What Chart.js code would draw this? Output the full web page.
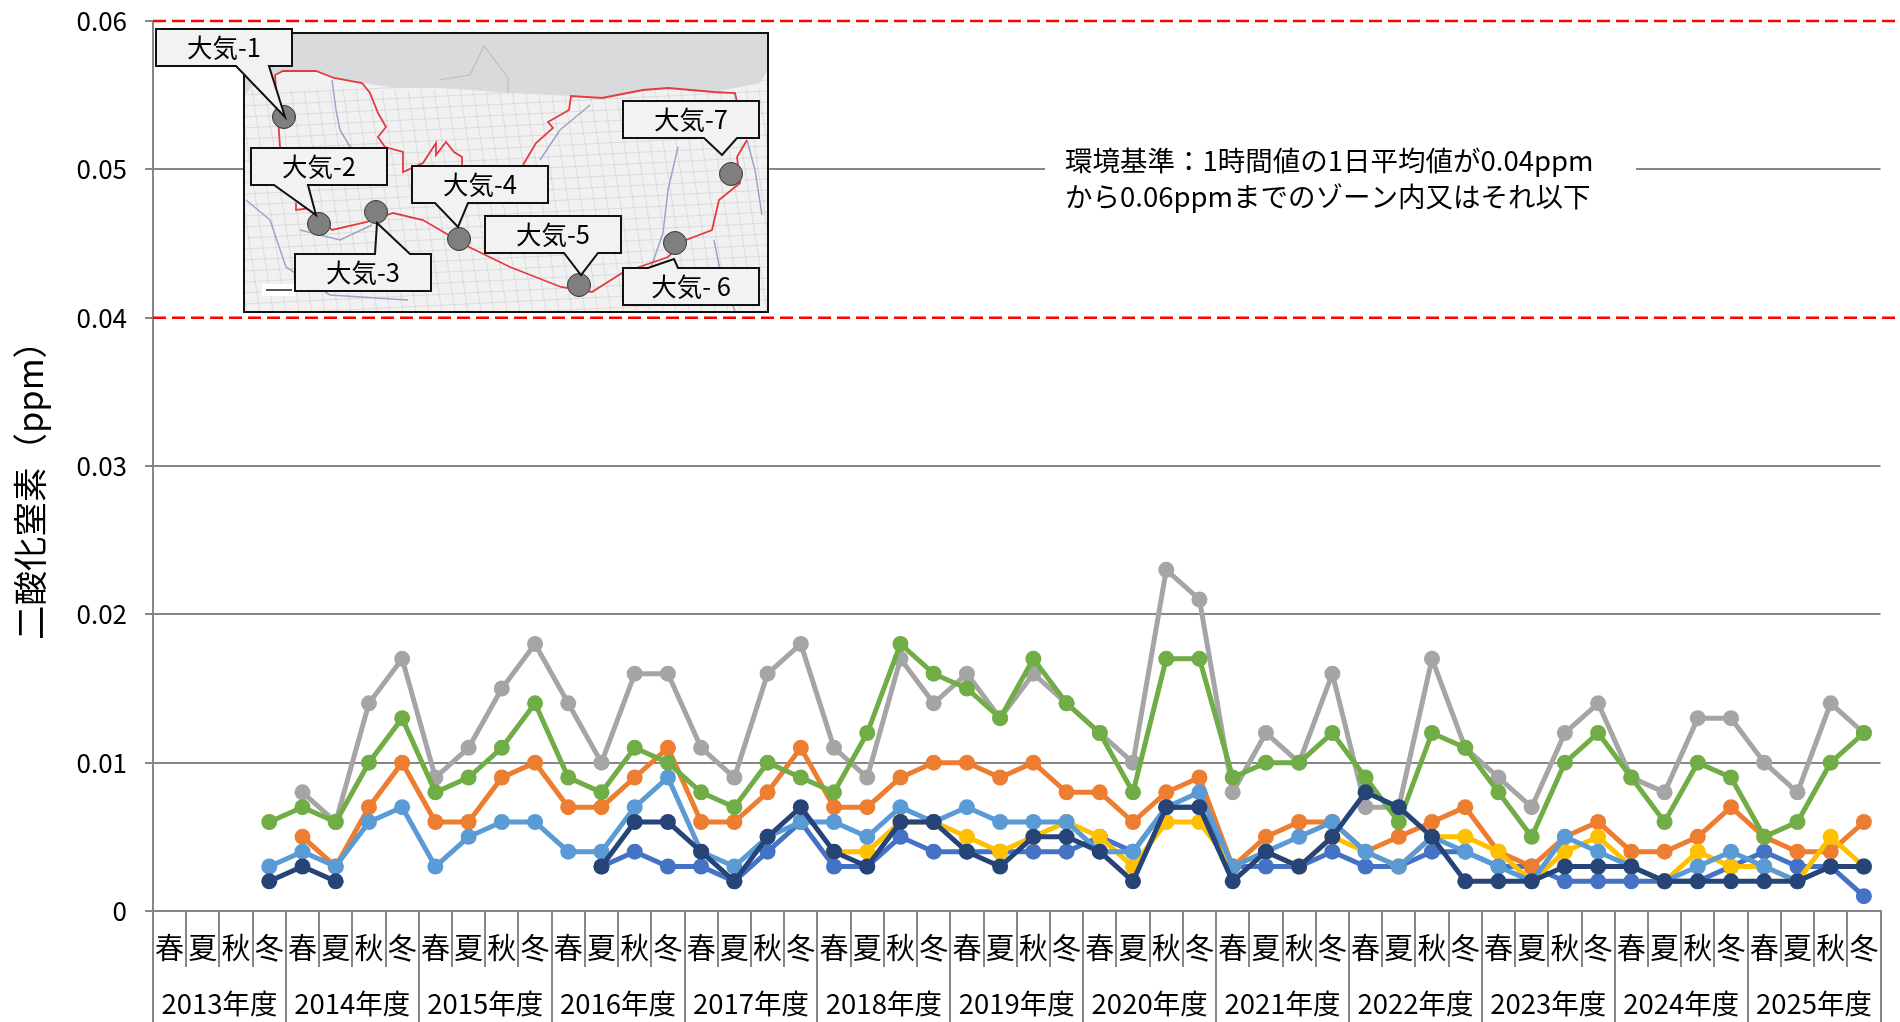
<!DOCTYPE html>
<html lang="ja">
<head>
<meta charset="utf-8">
<title>二酸化窒素</title>
<script src="https://cdn.jsdelivr.net/npm/chart.js@4"></script>
<style>
  html, body { margin: 0; padding: 0; background: #fff; overflow: hidden; }
  canvas { display: block; }
</style>
</head>
<body>
<canvas id="no2-chart" width="1900" height="1022"></canvas>
<script>
// categories
const seasons = ['春', '夏', '秋', '冬'];
const years = ['2013年度', '2014年度', '2015年度', '2016年度', '2017年度', '2018年度', '2019年度',
  '2020年度', '2021年度', '2022年度', '2023年度', '2024年度', '2025年度'];
const yTickLabels = ['0', '0.01', '0.02', '0.03', '0.04', '0.05', '0.06'];
const limitLines = [0.04, 0.06];

// series values (ppm)
const taiki1 = [null, null, null, null, null, null, null, null, null, null, null, null, null,
  0.003, 0.004, 0.003, 0.003, 0.002, 0.004, 0.006, 0.003, 0.003, 0.005, 0.004, 0.004, 0.004,
  0.004, 0.004, 0.005, 0.004, 0.007, 0.007, 0.003, 0.003, 0.003, 0.004, 0.003, 0.003, 0.004,
  0.004, 0.003, 0.003, 0.002, 0.002, 0.002, 0.002, 0.002, 0.003, 0.004, 0.003, 0.003, 0.001];
const taiki2 = [null, null, null, null, 0.005, 0.003, 0.007, 0.010, 0.006, 0.006, 0.009, 0.010, 0.007,
  0.007, 0.009, 0.011, 0.006, 0.006, 0.008, 0.011, 0.007, 0.007, 0.009, 0.010, 0.010, 0.009,
  0.010, 0.008, 0.008, 0.006, 0.008, 0.009, 0.003, 0.005, 0.006, 0.006, 0.004, 0.005, 0.006,
  0.007, 0.004, 0.003, 0.005, 0.006, 0.004, 0.004, 0.005, 0.007, 0.005, 0.004, 0.004, 0.006];
const taiki3 = [null, null, null, null, 0.008, 0.006, 0.014, 0.017, 0.009, 0.011, 0.015, 0.018, 0.014,
  0.010, 0.016, 0.016, 0.011, 0.009, 0.016, 0.018, 0.011, 0.009, 0.017, 0.014, 0.016, 0.013,
  0.016, 0.014, 0.012, 0.010, 0.023, 0.021, 0.008, 0.012, 0.010, 0.016, 0.007, 0.007, 0.017,
  0.011, 0.009, 0.007, 0.012, 0.014, 0.009, 0.008, 0.013, 0.013, 0.010, 0.008, 0.014, 0.012];
const taiki4 = [null, null, null, null, null, null, null, null, null, null, null, null, null,
  null, null, null, null, null, null, null, 0.004, 0.004, 0.006, 0.006, 0.005, 0.004,
  0.005, 0.006, 0.005, 0.003, 0.006, 0.006, 0.003, 0.004, 0.003, 0.005, 0.004, 0.003, 0.005,
  0.005, 0.004, 0.002, 0.004, 0.005, 0.003, 0.002, 0.004, 0.003, 0.003, 0.002, 0.005, 0.003];
const taiki5 = [null, null, null, 0.003, 0.004, 0.003, 0.006, 0.007, 0.003, 0.005, 0.006, 0.006, 0.004,
  0.004, 0.007, 0.009, 0.004, 0.003, 0.005, 0.006, 0.006, 0.005, 0.007, 0.006, 0.007, 0.006,
  0.006, 0.006, 0.004, 0.004, 0.007, 0.008, 0.003, 0.004, 0.005, 0.006, 0.004, 0.003, 0.005,
  0.004, 0.003, 0.002, 0.005, 0.004, 0.003, 0.002, 0.003, 0.004, 0.003, 0.002, 0.003, 0.003];
const taiki6 = [null, null, null, 0.006, 0.007, 0.006, 0.010, 0.013, 0.008, 0.009, 0.011, 0.014, 0.009,
  0.008, 0.011, 0.010, 0.008, 0.007, 0.010, 0.009, 0.008, 0.012, 0.018, 0.016, 0.015, 0.013,
  0.017, 0.014, 0.012, 0.008, 0.017, 0.017, 0.009, 0.010, 0.010, 0.012, 0.009, 0.006, 0.012,
  0.011, 0.008, 0.005, 0.010, 0.012, 0.009, 0.006, 0.010, 0.009, 0.005, 0.006, 0.010, 0.012];
const taiki7 = [null, null, null, 0.002, 0.003, 0.002, null, null, null, null, null, null, null,
  0.003, 0.006, 0.006, 0.004, 0.002, 0.005, 0.007, 0.004, 0.003, 0.006, 0.006, 0.004, 0.003,
  0.005, 0.005, 0.004, 0.002, 0.007, 0.007, 0.002, 0.004, 0.003, 0.005, 0.008, 0.007, 0.005,
  0.002, 0.002, 0.002, 0.003, 0.003, 0.003, 0.002, 0.002, 0.002, 0.002, 0.002, 0.003, 0.003];

const seasonLabels = years.flatMap(function () { return seasons; });
const seriesValues = [taiki1, taiki2, taiki3, taiki4, taiki5, taiki6, taiki7];
const seriesNames = ['大気-1', '大気-2', '大気-3', '大気-4', '大気-5', '大気-6', '大気-7'];
const seriesColors = ['#4472C4', '#ED7D31', '#A5A5A5', '#FFC000', '#5B9BD5', '#70AD47', '#264478'];

const FONT = '"Noto Sans CJK JP", "Noto Sans", sans-serif';
const GRID = '#868686';

// the later series sit on top, as in the source chart
const datasets = seriesValues.map(function (values, i) {
  return {
    label: seriesNames[i],
    data: values,
    order: seriesValues.length - i,
    borderColor: seriesColors[i],
    backgroundColor: seriesColors[i],
    borderWidth: 5,
    pointRadius: 8,
    pointBorderWidth: 0,
    pointHoverRadius: 8,
    tension: 0,
    spanGaps: false,
  };
});

// inset map: callout [text, box x, y, pointer base x1, x2, tip x, y, circle x, y]
const callouts = [
  ['大気-1', 156, 29, 236, 269, 285, 117, 284, 117],
  ['大気-2', 251, 148, 274, 308, 316, 215, 319, 224],
  ['大気-3', 295, 254, 375, 410, 377, 223, 376, 212],
  ['大気-4', 412, 166, 435, 468, 458, 227, 459, 239],
  ['大気-5', 485, 216, 564, 598, 581, 275, 579, 285],
  ['大気- 6', 623, 268, 648, 678, 674, 259, 675, 243],
  ['大気-7', 623, 101, 704, 737, 722, 155, 731, 174],
];
const seaEdge = [[244, 33], [768, 33], [768, 70], [760, 83], [714, 92], [668, 88], [643, 90], [602, 98],
  [571, 96], [510, 93], [470, 90], [439, 88], [400, 88], [362, 83],
  [334, 78], [316, 71], [283, 71], [262, 78], [244, 95]];
const breakwater = [[439, 80], [470, 75], [484, 46], [508, 78], [508, 93]];
const borderParts = [
  [[280, 147], [278, 117], [275, 75], [283, 71], [316, 71], [334, 78], [362, 83], [370, 93], [378, 113],
    [386, 127], [378, 137], [385, 147], [403, 152], [403, 172], [423, 163], [436, 143], [436, 155],
    [446, 142], [454, 152], [462, 157], [462, 165]],
  [[523, 165], [536, 143], [553, 128], [548, 122], [569, 110], [571, 96], [602, 98], [643, 90], [668, 88],
    [714, 92], [735, 93], [737, 102]],
  [[747, 140], [737, 157], [740, 183], [719, 200], [712, 230], [686, 240], [668, 257], [622, 273],
    [592, 292], [561, 287], [510, 267], [469, 247], [423, 220], [393, 213], [367, 222], [332, 230],
    [311, 208], [296, 210], [296, 203]],
];
const riverParts = [
  [[332, 80], [336, 110], [340, 130], [352, 150]],
  [[246, 200], [270, 220], [286, 267], [330, 295], [408, 300]],
  [[678, 147], [668, 190], [663, 233], [650, 270]],
  [[714, 240], [722, 280], [735, 311]],
  [[747, 140], [755, 170], [762, 215]],
  [[590, 105], [560, 130], [540, 160]],
  [[300, 230], [340, 240], [372, 225]],
];

function tracePath(ctx, pts) {
  ctx.beginPath();
  pts.forEach(function (p, i) {
    if (i === 0) ctx.moveTo(p[0], p[1]);
    else ctx.lineTo(p[0], p[1]);
  });
}

function drawInset(ctx) {
  ctx.save();
  ctx.fillStyle = '#F1F1F2';
  ctx.fillRect(244, 33, 524, 279);
  ctx.beginPath();
  ctx.rect(244, 33, 524, 279);
  ctx.clip();

  // faint road texture
  ctx.strokeStyle = 'rgba(120, 120, 125, 0.16)';
  ctx.lineWidth = 1;
  for (let x = 200; x < 800; x += 13) {
    ctx.beginPath();
    ctx.moveTo(x, 90);
    ctx.lineTo(x + 34, 312);
    ctx.stroke();
  }
  for (let y = 95; y < 340; y += 11) {
    ctx.beginPath();
    ctx.moveTo(244, y);
    ctx.lineTo(768, y - 26);
    ctx.stroke();
  }

  ctx.strokeStyle = '#9DA3C6';
  ctx.lineWidth = 1.5;
  riverParts.forEach(function (pts) {
    tracePath(ctx, pts);
    ctx.stroke();
  });

  tracePath(ctx, seaEdge);
  ctx.closePath();
  ctx.fillStyle = '#D9DADB';
  ctx.fill();

  ctx.strokeStyle = '#BDBEC0';
  ctx.lineWidth = 1.2;
  tracePath(ctx, breakwater);
  ctx.stroke();

  ctx.strokeStyle = '#E23B42';
  ctx.lineWidth = 1.8;
  borderParts.forEach(function (pts) {
    tracePath(ctx, pts);
    ctx.stroke();
  });

  // north arrow
  ctx.fillStyle = '#fff';
  ctx.fillRect(262, 284, 34, 12);
  ctx.fillStyle = '#555';
  ctx.fillRect(266, 289, 26, 2);
  ctx.restore();

  ctx.strokeStyle = '#111';
  ctx.lineWidth = 2;
  ctx.strokeRect(244, 33, 524, 279);

  callouts.forEach(function (c) {
    ctx.beginPath();
    ctx.arc(c[7], c[8], 11.5, 0, Math.PI * 2);
    ctx.fillStyle = '#7F7F7F';
    ctx.fill();
    ctx.strokeStyle = '#333';
    ctx.lineWidth = 1;
    ctx.stroke();
  });
  callouts.forEach(function (c) {
    const bx = c[1], by = c[2], w = 136, h = 37;
    const baseY = c[6] > by ? by + h : by;
    ctx.beginPath();
    ctx.moveTo(bx, by);
    if (baseY === by) {
      ctx.lineTo(c[3], by);
      ctx.lineTo(c[5], c[6]);
      ctx.lineTo(c[4], by);
    }
    ctx.lineTo(bx + w, by);
    ctx.lineTo(bx + w, by + h);
    if (baseY !== by) {
      ctx.lineTo(c[4], baseY);
      ctx.lineTo(c[5], c[6]);
      ctx.lineTo(c[3], baseY);
    }
    ctx.lineTo(bx, by + h);
    ctx.closePath();
    ctx.fillStyle = '#F2F2F2';
    ctx.fill();
    ctx.strokeStyle = '#111';
    ctx.lineWidth = 2;
    ctx.stroke();
    ctx.fillStyle = '#000';
    ctx.font = '25.5px ' + FONT;
    ctx.textAlign = 'center';
    ctx.textBaseline = 'middle';
    ctx.fillText(c[0], bx + w / 2, by + h / 2);
  });
}

const overlayPlugin = {
  id: 'overlay',
  afterDraw: function (chart) {
    const ctx = chart.ctx;
    const yScale = chart.scales.y;

    // environmental standard limits
    ctx.save();
    ctx.strokeStyle = '#FF0000';
    ctx.lineWidth = 2.5;
    ctx.setLineDash([13, 6]);
    limitLines.forEach(function (v) {
      const y = yScale.getPixelForValue(v);
      ctx.beginPath();
      ctx.moveTo(chart.chartArea.left, y);
      ctx.lineTo(1900, y);
      ctx.stroke();
    });
    ctx.restore();

    ctx.save();
    drawInset(ctx);

    // note about the standard, with white behind it to break the gridline
    ctx.fillStyle = '#fff';
    ctx.fillRect(1045, 140, 591, 80);
    ctx.fillStyle = '#000';
    ctx.font = '27.5px ' + FONT;
    ctx.textAlign = 'left';
    ctx.textBaseline = 'middle';
    ctx.fillText('環境基準：1時間値の1日平均値が0.04ppm', 1065, 161);
    ctx.fillText('から0.06ppmまでのゾーン内又はそれ以下', 1065, 197);

    // axis title
    ctx.translate(30, 482);
    ctx.rotate(-Math.PI / 2);
    ctx.font = '34.5px ' + FONT;
    ctx.textAlign = 'center';
    ctx.fillText('二酸化窒素（ppm）', 0, 0);
    ctx.restore();
  },
};

const chartCtx = document.getElementById('no2-chart').getContext('2d');
new Chart(chartCtx, {
  type: 'line',
  data: { labels: seasonLabels, datasets: datasets },
  plugins: [overlayPlugin],
  options: {
    responsive: false,
    animation: false,
    devicePixelRatio: 1,
    layout: { padding: { top: 21, right: 19.5, bottom: 0, left: 0 } },
    plugins: { legend: { display: false }, tooltip: { enabled: false } },
    scales: {
      x: {
        type: 'category',
        offset: true,
        afterFit: function (scale) { scale.height = 56; },
        border: { color: GRID, width: 2 },
        grid: { offset: true, drawOnChartArea: false, color: GRID, lineWidth: 2, tickLength: 56 },
        ticks: {
          autoSkip: false,
          maxRotation: 0,
          minRotation: 0,
          padding: -36,
          color: '#000',
          font: { family: FONT, size: 29 },
        },
      },
      x2: {
        type: 'category',
        position: 'bottom',
        labels: years,
        offset: true,
        afterFit: function (scale) { scale.height = 55; },
        border: { display: false },
        grid: { offset: true, drawOnChartArea: false, color: GRID, lineWidth: 2, tickLength: 55 },
        ticks: {
          autoSkip: false,
          maxRotation: 0,
          minRotation: 0,
          padding: -35,
          color: '#000',
          font: { family: FONT, size: 27.5 },
        },
      },
      y: {
        min: 0,
        max: 0.06,
        // tick padding would otherwise also push the plot area down
        afterFit: function (scale) {
          scale.width = 153;
          scale.paddingTop = 0;
          scale.paddingBottom = 0;
        },
        border: { color: GRID, width: 2 },
        grid: {
          lineWidth: 2,
          tickLength: 8,
          tickColor: GRID,
          color: function (c) {
            return limitLines.indexOf(c.tick.value) >= 0 ? 'rgba(0,0,0,0)' : GRID;
          },
        },
        ticks: {
          stepSize: 0.01,
          padding: 18,
          color: '#000',
          font: { family: FONT, size: 26 },
          callback: function (value, index) { return yTickLabels[index]; },
        },
      },
    },
  },
});
</script>
</body>
</html>
